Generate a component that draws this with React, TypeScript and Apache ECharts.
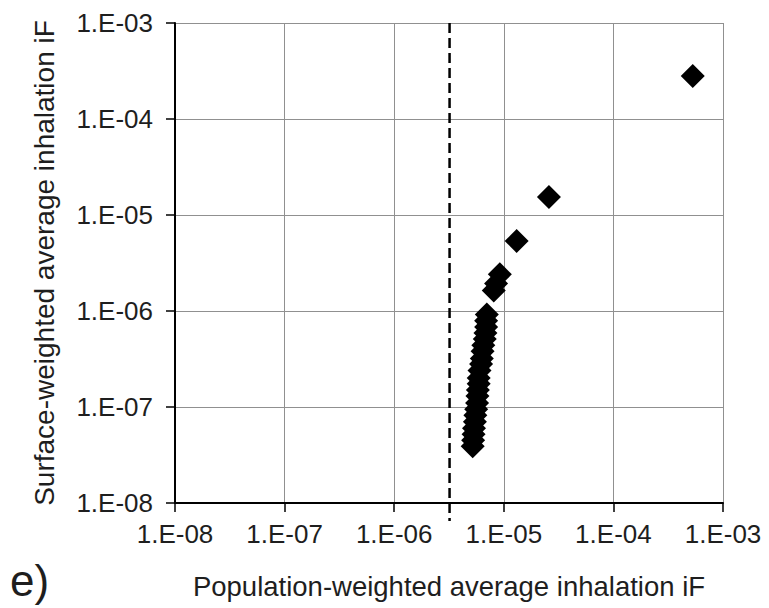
import React, { useEffect, useRef } from "react";
import * as echarts from "echarts";

// Tick labels for exponents -8 .. -3
const tickLabels = ["1.E-08", "1.E-07", "1.E-06", "1.E-05", "1.E-04", "1.E-03"];

// Population-weighted average inhalation iF (x)
const popIF = [
  5.3e-4, 2.58e-5, 1.31e-5, 9.2e-6, 8.5e-6, 8.1e-6,
  7.0e-6, 6.9e-6, 6.9e-6, 6.8e-6, 6.7e-6, 6.5e-6, 6.4e-6, 6.3e-6, 6.2e-6, 6.0e-6,
  5.9e-6, 5.9e-6, 5.8e-6, 5.75e-6, 5.7e-6, 5.6e-6, 5.5e-6, 5.45e-6, 5.35e-6, 5.3e-6,
  5.25e-6, 5.2e-6,
];
// Surface-weighted average inhalation iF (y)
const surfIF = [
  2.8e-4, 1.54e-5, 5.36e-6, 2.41e-6, 1.93e-6, 1.64e-6,
  9.2e-7, 7.9e-7, 6.8e-7, 5.9e-7, 5.1e-7, 4.4e-7, 3.8e-7, 3.2e-7, 2.8e-7, 2.4e-7,
  2.0e-7, 1.75e-7, 1.5e-7, 1.3e-7, 1.1e-7, 9.5e-8, 8.2e-8, 7.0e-8, 6.0e-8, 5.2e-8,
  4.5e-8, 3.9e-8,
];

// Dashed reference line (x value) and its vertical extent
const refLineX = 3.2e-6;
const refLineYTop = 1e-3;
const refLineYBottom = 6.5e-9;

const xName = "Population-weighted average inhalation iF";
const yName = "Surface-weighted average inhalation iF";
const panelLabel = "e)";

const FONT = "'Liberation Sans', Arial, sans-serif";

const fmt = (v: number) => {
  const e = Math.round(Math.log10(v));
  return tickLabels[e + 8] ?? "";
};

export default function App() {
  const ref = useRef<HTMLDivElement>(null);
  useEffect(() => {
    if (!ref.current) return;
    const chart = echarts.init(ref.current, null, { renderer: "svg" });
    const points = popIF.map((x, i) => [x, surfIF[i]]);
    const axisCommon = {
      type: "log" as const,
      logBase: 10,
      min: 1e-8,
      max: 1e-3,
      splitNumber: 5,
      axisLine: { show: true, lineStyle: { color: "#000", width: 2 } },
      axisTick: { show: true, inside: false, length: 9, lineStyle: { color: "#000", width: 1.5 } },
      minorTick: { show: false },
      splitLine: { show: true, lineStyle: { color: "#909090", width: 1 } },
      axisLabel: {
        formatter: fmt,
        color: "#1e1e1e",
        fontSize: 26,
        fontFamily: FONT,
      },
    };
    chart.setOption({
      animation: false,
      backgroundColor: "#ffffff",
      grid: { left: 175, right: 46, top: 23, bottom: 105, containLabel: false },
      xAxis: {
        ...axisCommon,
        axisLabel: { ...axisCommon.axisLabel, margin: 18 },
      },
      yAxis: {
        ...axisCommon,
        axisLabel: { ...axisCommon.axisLabel, margin: 22 },
      },
      series: [
        {
          type: "line",
          data: [
            [refLineX, refLineYTop],
            [refLineX, refLineYBottom],
          ],
          symbol: "none",
          clip: false,
          z: 1,
          lineStyle: { color: "#000", width: 2.5, type: [10, 5] },
        },
        {
          type: "scatter",
          data: points,
          symbol: "diamond",
          symbolSize: 24,
          z: 3,
          itemStyle: { color: "#000", opacity: 1 },
        },
      ],
      graphic: [
        {
          type: "text",
          x: 449,
          y: 586,
          style: {
            text: xName,
            fontSize: 27.5,
            fontFamily: FONT,
            fill: "#1e1e1e",
            textAlign: "center",
            textVerticalAlign: "middle",
          },
        },
        {
          type: "text",
          x: 44,
          y: 263,
          rotation: Math.PI / 2,
          style: {
            text: yName,
            fontSize: 28,
            fontFamily: FONT,
            fill: "#1e1e1e",
            textAlign: "center",
            textVerticalAlign: "middle",
          },
        },
        {
          type: "text",
          x: 10,
          y: 580,
          style: {
            text: panelLabel,
            fontSize: 44,
            fontFamily: FONT,
            fill: "#1e1e1e",
            textAlign: "left",
            textVerticalAlign: "middle",
          },
        },
      ],
    });
    return () => chart.dispose();
  }, []);
  return (
    <div
      ref={ref}
      style={{ position: "fixed", left: 0, top: 0, width: 769, height: 608 }}
    />
  );
}
